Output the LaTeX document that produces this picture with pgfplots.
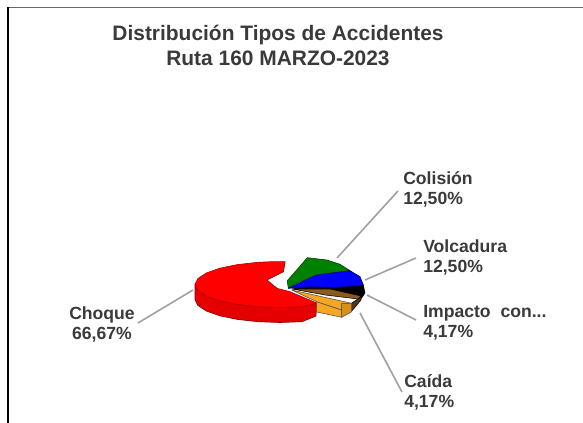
\documentclass[border=0pt]{standalone}
\usepackage{fontspec}
\setmainfont{Liberation Sans}
\usepackage{pgfplots}
\pgfplotsset{compat=1.18}
\definecolor{txt}{HTML}{3A3A3A}
\definecolor{lead}{HTML}{A0A0A0}
\definecolor{orangeA}{HTML}{F5A623}
\definecolor{orangeB}{HTML}{D98E1A}
\definecolor{brownA}{HTML}{8A5A1E}
\begin{document}
\begin{tikzpicture}
\path (0,0) rectangle (437.25pt,317.25pt);
\begin{axis}[
  at={(0,0)}, anchor=south west,
  scale only axis, width=437.25pt, height=317.25pt,
  xmin=0, xmax=583, ymin=0, ymax=423, y dir=reverse,
  hide axis, clip=true,
  every axis plot/.append style={line join=round},
]
% frame
\addplot[draw=black!60, line width=1.2pt, forget plot] coordinates {(8,7.5) (583,7.5)};
\addplot[draw=black, line width=0.8pt, forget plot] coordinates {(8,7.5) (8,423)};
% leader lines
\addplot[draw=lead, line width=1.2pt, forget plot] coordinates {(337,258) (398,191)};
\addplot[draw=lead, line width=1.2pt, forget plot] coordinates {(365,280) (416,258)};
\addplot[draw=lead, line width=1.2pt, forget plot] coordinates {(367,295) (416,320)};
\addplot[draw=lead, line width=1.2pt, forget plot] coordinates {(360,313) (402,392)};
\addplot[draw=lead, line width=1.2pt, forget plot] coordinates {(193,290) (138,323)};
% red side
\addplot[fill=red!90!black, draw=red!55!black, line width=0.5pt, forget plot] coordinates {(195,284.5) (195,299.5) (197.9,305.5) (206.4,311) (219.9,315.8) (237.5,319.4) (258,321.7) (280,322.5) (302,321.7) (316,316) (316.7,303) (302,306.7) (280,307.5) (258,306.7) (237.5,304.4) (219.9,300.8) (206.4,296) (197.9,290.5)} --cycle;
% red notch side
\addplot[fill=red!70!black, draw=red!55!black, line width=0.5pt, forget plot] coordinates {(285,261.7) (283.3,271.7) (266.7,280) (276.7,288.3) (266,282) (262,280) (280,269)} --cycle;
% red top
\addplot[fill=red, draw=red!75!black, line width=0.5pt, forget plot] coordinates {(285,261.7) (283.3,271.7) (266.7,280) (276.7,288.3) (290,291.7) (316.7,303) (302,306.7) (280,307.5) (258,306.7) (237.5,304.4) (219.9,300.8) (206.4,296) (197.9,290.5) (195,284.5) (197.9,278.5) (206.4,273) (219.9,268.2) (237.5,264.6) (258,262.3) (274,261.6)} --cycle;
% black underside of blue
\addplot[fill=black, draw=black, forget plot] coordinates {(293,288) (310,286.7) (336.7,287.3) (363.3,285) (365,293) (361.7,298) (340,294) (310,292)} --cycle;
% green
\addplot[fill=green!50!black, draw=green!30!black, line width=0.5pt, forget plot] coordinates {(287.3,280.7) (296.7,270) (307.3,257.7) (326.7,260) (340,264.3) (350,270.7) (316.7,275) (296.7,283.3) (288.3,288.3)} --cycle;
% blue
\addplot[fill=blue, draw=blue!50!black, line width=0.5pt, forget plot] coordinates {(288.3,288.3) (316.7,275) (350,270.7) (360,276.7) (363.3,285) (336.7,287.3) (310,286.7) (293.3,288)} --cycle;
% brown
\addplot[fill=brownA, draw=black, line width=0.4pt, forget plot] coordinates {(292,289) (330,289) (361,296) (358,299) (325,295)} --cycle;
\addplot[fill=brownA!60!black, draw=black, line width=0.4pt, forget plot] coordinates {(358,299) (361.7,296.7) (361,300) (355,307.3) (351.7,311) (351.7,303)} --cycle;
% orange
\addplot[fill=orangeA, draw=black!70, line width=0.4pt, forget plot] coordinates {(316.7,301.7) (341.7,310) (341.7,317.3) (316.7,312)} --cycle;
\addplot[fill=orangeB, draw=black!70, line width=0.4pt, forget plot] coordinates {(341.7,303.3) (351.7,303.3) (351.7,311.7) (341.7,317.3)} --cycle;
\addplot[fill=orangeA, draw=black!70, line width=0.4pt, forget plot] coordinates {(291.7,290) (351.7,303.3) (341.7,303.3) (341.7,310) (316.7,301.7)} --cycle;
% texts
\node[font=\bfseries\fontsize{15.7}{18.7}\selectfont, text=txt, align=center, anchor=center] at (axis cs:278,45.5) {Distribución Tipos de Accidentes\\Ruta 160 MARZO-2023};
\tikzset{lab/.style={font=\bfseries\fontsize{13.2}{15}\selectfont, text=txt, inner sep=0pt}}
\node[lab, align=left, anchor=west] at (axis cs:403,189) {Colisión\\12,50\%};
\node[lab, align=left, anchor=west] at (axis cs:423,257) {Volcadura\\12,50\%};
\node[lab, align=left, anchor=west] at (axis cs:423,323) {Impacto\ \ con...\\4,17\%};
\node[lab, align=left, anchor=west] at (axis cs:404,392) {Caída\\4,17\%};
\node[lab, align=center, anchor=center] at (axis cs:102,324) {Choque\\66,67\%};
\end{axis}
\end{tikzpicture}
\end{document}
